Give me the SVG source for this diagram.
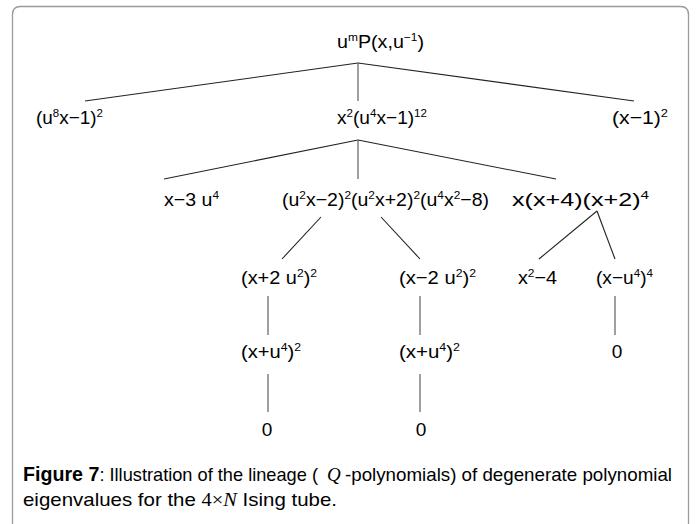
<svg xmlns="http://www.w3.org/2000/svg" width="696" height="524" viewBox="0 0 696 524">
<style>
.t{font-family:"Liberation Sans Narrow","Liberation Sans",Arial,sans-serif;font-size:19px;fill:#000}
.t tspan.s{font-size:11.5px}
.cap{font-family:"Liberation Sans Narrow","Liberation Sans",Arial,sans-serif;font-size:19px;fill:#000}
.m{font-family:"Liberation Serif","Times New Roman",serif;font-size:19px;fill:#000}
.c line{stroke:#222;stroke-width:1.1;fill:none}
.c line.v{stroke:#777;stroke-width:1.4}
.frame{fill:none;stroke:#9a9a9a;stroke-width:1.3}
</style>
<rect width="696" height="524" fill="#fff"/>
<path class="frame" d="M12.5,524 V14.5 Q12.5,6.5 20.5,6.5 H680.5 Q688.5,6.5 688.5,14.5 V524"/>
<g id="connectors" class="c">
<line x1="358" y1="63" x2="85" y2="101"/>
<line class="v" x1="358" y1="63" x2="358" y2="101"/>
<line x1="358" y1="63" x2="634" y2="101"/>
<line x1="358" y1="140" x2="164" y2="179"/>
<line class="v" x1="358" y1="140" x2="358" y2="179"/>
<line x1="358" y1="140" x2="556" y2="179"/>
<line x1="321" y1="217" x2="282" y2="259"/>
<line x1="381" y1="217" x2="420" y2="259"/>
<line x1="597" y1="211" x2="539" y2="259"/>
<line x1="597" y1="211" x2="615" y2="259"/>
<line class="v" x1="268" y1="296" x2="268" y2="335"/>
<line class="v" x1="420" y1="296" x2="420" y2="335"/>
<line class="v" x1="615" y1="296" x2="615" y2="335"/>
<line class="v" x1="268" y1="374" x2="268" y2="412"/>
<line class="v" x1="420" y1="374" x2="420" y2="412"/>
</g>
<g id="n-root"><text class="t" x="337" y="48" textLength="87" lengthAdjust="spacingAndGlyphs">u<tspan class="s" dy="-7">m</tspan><tspan dy="7">P(x,u</tspan><tspan class="s" dy="-7">−1</tspan><tspan dy="7">)</tspan></text></g>
<g id="n-a"><text class="t" x="36" y="124" textLength="67" lengthAdjust="spacingAndGlyphs">(u<tspan class="s" dy="-7">8</tspan><tspan dy="7">x−1)</tspan><tspan class="s" dy="-7">2</tspan></text></g>
<g id="n-b"><text class="t" x="337" y="124" textLength="90" lengthAdjust="spacingAndGlyphs">x<tspan class="s" dy="-7">2</tspan><tspan dy="7">(u</tspan><tspan class="s" dy="-7">4</tspan><tspan dy="7">x−1)</tspan><tspan class="s" dy="-7">12</tspan></text></g>
<g id="n-c"><text class="t" x="612" y="124" textLength="56" lengthAdjust="spacingAndGlyphs">(x−1)<tspan class="s" dy="-7">2</tspan></text></g>
<g id="n-d"><text class="t" x="164" y="206" textLength="55" lengthAdjust="spacingAndGlyphs">x−3 u<tspan class="s" dy="-7">4</tspan></text></g>
<g id="n-e"><text class="t" x="282" y="206" textLength="207" lengthAdjust="spacingAndGlyphs">(u<tspan class="s" dy="-7">2</tspan><tspan dy="7">x−2)</tspan><tspan class="s" dy="-7">2</tspan><tspan dy="7">(u</tspan><tspan class="s" dy="-7">2</tspan><tspan dy="7">x+2)</tspan><tspan class="s" dy="-7">2</tspan><tspan dy="7">(u</tspan><tspan class="s" dy="-7">4</tspan><tspan dy="7">x</tspan><tspan class="s" dy="-7">2</tspan><tspan dy="7">−8)</tspan></text></g>
<g id="n-f"><text class="t" x="512" y="206" textLength="137" lengthAdjust="spacingAndGlyphs">x(x+4)(x+2)<tspan class="s" dy="-7">4</tspan></text></g>
<g id="n-g"><text class="t" x="241" y="284" textLength="76" lengthAdjust="spacingAndGlyphs">(x+2 u<tspan class="s" dy="-7">2</tspan><tspan dy="7">)</tspan><tspan class="s" dy="-7">2</tspan></text></g>
<g id="n-h"><text class="t" x="399" y="284" textLength="77" lengthAdjust="spacingAndGlyphs">(x−2 u<tspan class="s" dy="-7">2</tspan><tspan dy="7">)</tspan><tspan class="s" dy="-7">2</tspan></text></g>
<g id="n-i"><text class="t" x="518" y="284" textLength="39" lengthAdjust="spacingAndGlyphs">x<tspan class="s" dy="-7">2</tspan><tspan dy="7">−4</tspan></text></g>
<g id="n-j"><text class="t" x="596" y="284" textLength="57" lengthAdjust="spacingAndGlyphs">(x−u<tspan class="s" dy="-7">4</tspan><tspan dy="7">)</tspan><tspan class="s" dy="-7">4</tspan></text></g>
<g id="n-k"><text class="t" x="241" y="358" textLength="60" lengthAdjust="spacingAndGlyphs">(x+u<tspan class="s" dy="-7">4</tspan><tspan dy="7">)</tspan><tspan class="s" dy="-7">2</tspan></text></g>
<g id="n-l"><text class="t" x="399" y="358" textLength="61" lengthAdjust="spacingAndGlyphs">(x+u<tspan class="s" dy="-7">4</tspan><tspan dy="7">)</tspan><tspan class="s" dy="-7">2</tspan></text></g>
<g id="n-m"><text class="t" x="617" y="358" text-anchor="middle">0</text></g>
<g id="n-n"><text class="t" x="267" y="436" text-anchor="middle">0</text></g>
<g id="n-o"><text class="t" x="421" y="436" text-anchor="middle">0</text></g>
<g id="caption">
<text class="cap" x="23" y="481" textLength="295" lengthAdjust="spacingAndGlyphs"><tspan font-weight="bold" font-size="20.5">Figure  7</tspan>: Illustration of the lineage (</text>
<text class="m" x="327" y="481" font-style="italic">Q</text>
<text class="cap" x="345" y="481" textLength="327" lengthAdjust="spacingAndGlyphs">-polynomials) of degenerate polynomial</text>
<text class="cap" x="23" y="506" textLength="314" lengthAdjust="spacingAndGlyphs">eigenvalues for the  <tspan class="m">4×<tspan font-style="italic">N</tspan></tspan>  Ising tube.</text>
</g>
</svg>
